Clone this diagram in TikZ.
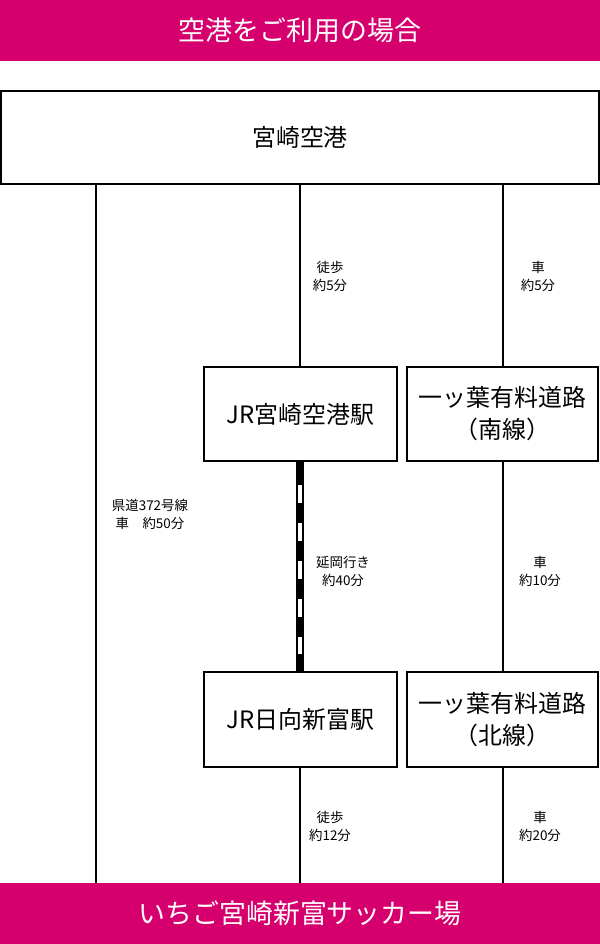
\documentclass[tikz,border=0pt]{standalone}
\usepackage{fontspec}
\setmainfont{Noto Sans CJK JP}
\definecolor{band}{RGB}{213,0,110}
\begin{document}
\begin{tikzpicture}[x=1bp,y=-1bp,
  bandbox/.style={fill=band,draw=none,text=white,minimum width=600bp,minimum height=61bp,inner sep=0pt,font=\fontsize{27}{30}\selectfont},
  stationbox/.style={draw=black,line width=1.3bp,fill=white,inner sep=0pt,align=center,font=\fontsize{24}{32}\selectfont},
  conn/.style={line width=2bp},
  lbl/.style={align=center,inner sep=0pt,font=\fontsize{13.5}{18}\selectfont},
  rail/.style={line width=8bp},
  railwhite/.style={line width=4.5bp,white,dash pattern=on 18.5bp off 19.6bp}]
\useasboundingbox (0,0) rectangle (600,944);
\node[bandbox] (head) at (300,30.5) {空港をご利用の場合};
\node[bandbox] (goal) at (300,913.5) {いちご宮崎新富サッカー場};
\node[stationbox,minimum width=598bp,minimum height=93bp] (airport) at (300,137.5) {宮崎空港};
\node[stationbox,minimum width=193bp,minimum height=94bp] (jr1) at (300.5,414) {JR宮崎空港駅};
\node[stationbox,minimum width=191bp,minimum height=94bp] (road1) at (502.5,414) {一ッ葉有料道路\\（南線）};
\node[stationbox,minimum width=193bp,minimum height=95bp] (jr2) at (300.5,719.5) {JR日向新富駅};
\node[stationbox,minimum width=191bp,minimum height=95bp] (road2) at (502.5,719.5) {一ッ葉有料道路\\（北線）};
\coordinate (xl) at (96,0);
\coordinate (xm) at (300,0);
\coordinate (xr) at (503,0);
% connectors
\draw[conn] (airport.south -| xl) -- (goal.north -| xl);
\draw[conn] (airport.south -| xm) -- (jr1.north -| xm);
\draw[conn] (airport.south -| xr) -- (road1.north -| xr);
\draw[conn] (road1.south -| xr) -- (road2.north -| xr);
\draw[conn] (jr2.south -| xm) -- (goal.north -| xm);
\draw[conn] (road2.south -| xr) -- (goal.north -| xr);
\draw[rail] (jr1.south -| xm) -- (jr2.north -| xm);
\draw[railwhite] ([yshift=-23bp]jr1.south -| xm) -- ([yshift=17bp]jr2.north -| xm);
% labels
\node[lbl] (l1) at (330,276) {徒歩\\約5分};
\node[lbl] (l2) at (538,276) {車\\約5分};
\node[lbl] (l3) at (150,514) {県道372号線\\車\hspace{1em}約50分};
\node[lbl] (l4) at (343,571) {延岡行き\\約40分};
\node[lbl] (l5) at (540,571) {車\\約10分};
\node[lbl] (l6) at (330,826) {徒歩\\約12分};
\node[lbl] (l7) at (540,826) {車\\約20分};
\end{tikzpicture}
\end{document}
